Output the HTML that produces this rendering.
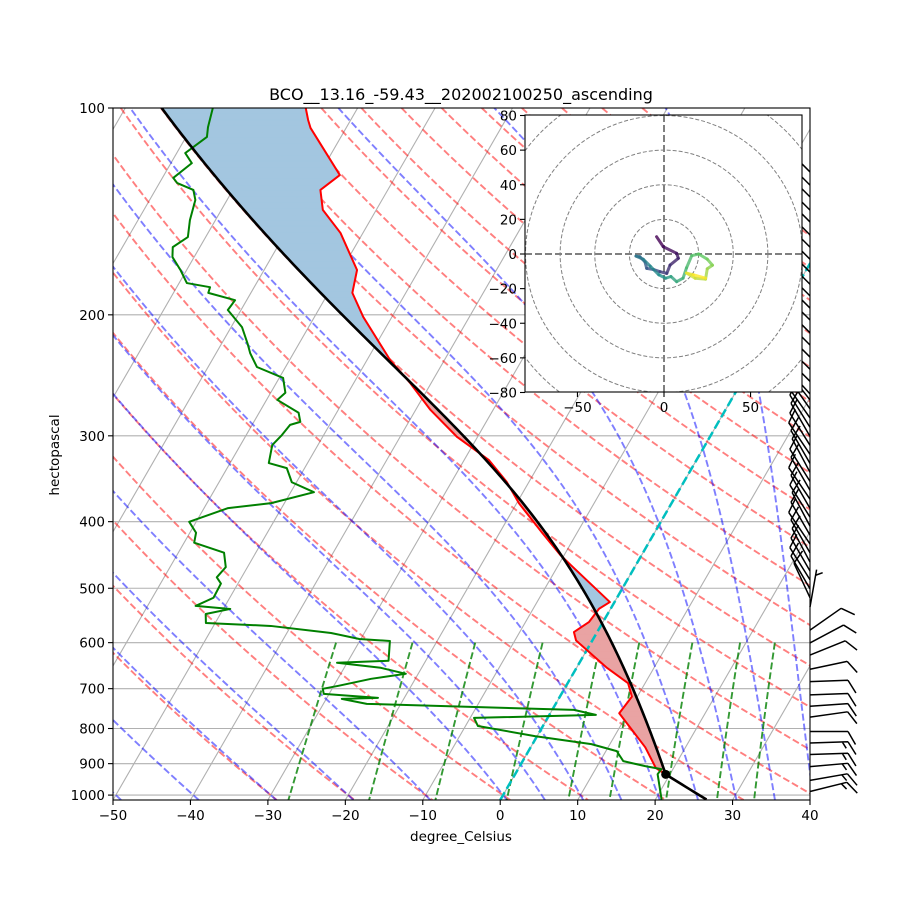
<!DOCTYPE html>
<html><head><meta charset="utf-8"><style>
html,body{margin:0;padding:0;background:#fff;}
svg text{font-family:"DejaVu Sans","Liberation Sans",sans-serif;fill:#000;}
</style></head>
<body>
<svg id="chart" width="900" height="900" xmlns="http://www.w3.org/2000/svg">
<defs>
<clipPath id="plotclip"><rect x="113" y="108" width="697" height="692"/></clipPath>
<clipPath id="hodoclip"><rect x="525" y="115" width="277" height="277"/></clipPath>
</defs>
<rect x="0" y="0" width="900" height="900" fill="#fff"/>
<g id="main" clip-path="url(#plotclip)"></g>
<g id="barbs"></g>
<g id="axes"></g>
<g id="inset"></g>
<text x="461" y="100" font-size="16" text-anchor="middle">BCO__13.16_-59.43__202002100250_ascending</text>
<text x="461" y="841" font-size="13.5" text-anchor="middle">degree_Celsius</text>
<text x="0" y="0" font-size="13.5" text-anchor="middle" transform="translate(59,455) rotate(-90)">hectopascal</text>
</svg>
<script>
// ---- data ----
const pressureTicks=[100,200,300,400,500,600,700,800,900,1000];
const tempTicks=[-50,-40,-30,-20,-10,0,10,20,30,40];
const envP=[100,104.1,106.9,125.2,131.6,140.7,152,172.1,185.8,201.4,232.8,251.4,275,301.3,325.4,349.9,376.1,416,447.3,462.6,523.7,535.5,559.7,579.1,595.6,651.6,687.3,719,760.1,852,913,935,1015];
const envT=[-76.7,-75.5,-74.6,-67.3,-68.7,-66.9,-62.9,-58.0,-56.9,-53.7,-47.0,-42.7,-38.1,-32.6,-26.8,-22.9,-19.7,-14.4,-10.5,-8.4,-0.6,-1.5,-1.8,-3.0,-2.1,3.8,7.8,9.3,8.9,14.8,17.7,19.6,26.6];
const dewP=[100,106.6,110.2,116.3,120.3,126.4,128.6,131.6,136.1,145.6,154.1,159.4,164.8,172.1,179.8,182.3,185.8,190.4,196.8,208.4,219.9,227.4,238.2,247.1,259.7,266,277.7,286.3,289.2,299.2,309.4,328.7,334.3,350.5,362.4,375.9,382.2,400.2,415.1,429.2,443.8,465.8,482,492.2,516.2,530.5,535.9,545,561.7,567.3,580.8,592.6,596.6,637.6,641.9,652.7,666,677.3,693.4,700.4,712.3,721.9,724.3,736.6,751.5,764.3,772.1,793.3,820.6,843,863,892.5,907.6,916.8,932.3,1015];
const dewT=[-88.7,-87.9,-87.3,-88.9,-87.3,-88.6,-87.7,-85.1,-84.1,-83.3,-82.3,-83.5,-82.8,-80.8,-79.0,-75.7,-75.5,-71.5,-71.7,-68.6,-66.7,-65.6,-63.7,-59.5,-58.1,-58.6,-54.9,-54.0,-55.1,-55.4,-55.9,-55.0,-52.3,-50.6,-47.0,-51.7,-56.9,-60.9,-59.2,-58.7,-54.1,-52.8,-53.2,-52.2,-52.1,-53.8,-49.1,-51.9,-51.2,-42.6,-34.3,-30.2,-26.1,-24.8,-31.3,-25.3,-21.6,-25.7,-29.4,-31.2,-30.7,-23.4,-28.0,-24.4,2.8,6.0,-9.5,-8.4,-0.3,7.6,11.4,13.0,16.2,18.5,18.4,20.8];
const dryT0=[-30,-20,-10,0,10,20,30,40,50,60,70,80,90,100,110,120,130,140,150,160,170,180,190];
const moistT0=[-50,-40,-30,-20,-10,0,5,10,15,20,25,30,35,40];
const mixRatios=[0.0004,0.001,0.002,0.004,0.007,0.01,0.016,0.024,0.032];
const barbP=[123.9,129.5,134.7,140.8,146.5,153,159.4,166,173.3,180.5,187.7,195.5,203.5,212.4,221.3,230.4,240,249.9,260.7,
 266,274,282.5,291.5,300.5,309.7,319.2,329,339,349.5,360,371,382.5,394,406,418.5,431,444,458,472,486,501,516,
 532.5,575.3,600.5,625.4,655.9,683.6,714.6,742.5,770,808,840,873,909,952,988];
const barbSpd=[10,10,10,10,10,10,10,10,10,10,10,10,10,10,10,10,10,10,10,
 10,10,10,10,10,10,10,10,10,10,10,10,10,10,10,10,10,10,10,10,10,10,10,
 5,10,10,10,10,10,10,10,10,10,15,15,15,15,15];
const barbDir=[315,315,315,315,315,315,315,315,315,315,315,315,315,315,315,315,315,315,318,
 322,325,325,328,330,328,326,330,332,328,330,326,330,328,332,330,326,330,332,330,328,330,335,
 10,55,62,68,78,88,88,86,82,90,88,88,85,80,76];
const hodoU=[-4.3,-0.4,7.3,8.3,3.5,1.6,-2.3,-6,-10,-11,-13.9,-16.2,-12,-8,-3,1,4,7.3,11,13,16,20,25,28,25,24,18,13,17,24];
const hodoV=[10,4.2,0.4,-2.5,-6.4,-11.2,-10.2,-9,-8.3,-4.5,-1.6,-1.2,-3,-7,-12,-14,-13,-16,-14,-8,-1,0,-3,-6.5,-8.5,-14.5,-14,-11,-12,-14];

// ---- scales ----
const NS="http://www.w3.org/2000/svg";
const X0=113,X1=810,Y0=108,Y1=800,K=298.4,PX=697/90,SK=Math.tan(Math.PI/6);
function yOf(p){return Y0+K*Math.log(p/100);}
function xOf(T,p){return X0+(T+50)*PX+(Y1-yOf(p))*SK;}
const PBOT=100*Math.exp((Y1-Y0)/K);
function mk(tag,attrs,parent){const e=document.createElementNS(NS,tag);for(const k in attrs)e.setAttribute(k,attrs[k]);parent.appendChild(e);return e;}
function pathD(pts){return pts.map((q,i)=>(i?'L':'M')+q[0].toFixed(2)+' '+q[1].toFixed(2)).join('');}
function logGrid(p1,p2,n){const a=[];for(let i=0;i<=n;i++)a.push(p1*Math.pow(p2/p1,i/n));return a;}
function interp(P,V,p){const lp=Math.log(p);
 if(p<=P[0])return V[0]; if(p>=P[P.length-1])return V[V.length-1];
 for(let i=0;i<P.length-1;i++){if(p>=P[i]&&p<=P[i+1]){const a=Math.log(P[i]),b=Math.log(P[i+1]);return V[i]+(V[i+1]-V[i])*(lp-a)/(b-a);}}return V[V.length-1];}
const Rd=287.04,Cp=1004.6,Lv=2.501e6,EPS=0.622;
function es(TK){const t=TK-273.15;return 6.112*Math.exp(17.67*t/(t+243.5));}
function dTdp(p,TK){const e=es(TK);const rs=EPS*e/(p-e);return (Rd*TK+Lv*rs)/(p*(Cp+Lv*Lv*rs*EPS/(Rd*TK*TK)));}
function moist(p0,T0K,pList){const out=[];let p=p0,T=T0K;
 for(const pt of pList){const n=8;const h=(pt-p)/n;
  for(let i=0;i<n;i++){const k1=dTdp(p,T),k2=dTdp(p+h/2,T+h*k1/2),k3=dTdp(p+h/2,T+h*k2/2),k4=dTdp(p+h,T+h*k3);T+=h*(k1+2*k2+2*k3+k4)/6;p+=h;}
  out.push([pt,T]);}
 return out;}

const main=document.getElementById('main');
pressureTicks.forEach(p=>{const l=mk('line',{x1:X0,x2:X1,y1:yOf(p),y2:yOf(p),stroke:'#b0b0b0','stroke-width':1.1},main);
 
 });
for(let T=-160;T<=40;T+=10){const l=mk('line',{x1:xOf(T,PBOT),y1:Y1,x2:xOf(T,100),y2:Y0,stroke:'#b0b0b0','stroke-width':1.1},main);
 
 }
const grid=logGrid(100,PBOT,60);
const DASH='7,3';
dryT0.forEach(t0=>{const pts=grid.map(p=>[xOf((t0+273.15)*Math.pow(p/1000,0.2857)-273.15,p),yOf(p)]);
 const e=mk('path',{d:pathD(pts),fill:'none',stroke:'#ff0000','stroke-opacity':0.5,'stroke-width':1.9,'stroke-dasharray':DASH},main);
 
 });
const up=logGrid(1000,100,60);
moistT0.forEach(t0=>{let pts=moist(1000,t0+273.15,up).map(q=>[xOf(q[1]-273.15,q[0]),yOf(q[0])]);
 const dn=moist(1000,t0+273.15,[PBOT]).map(q=>[xOf(q[1]-273.15,q[0]),yOf(q[0])]);
 pts=dn.concat([[xOf(t0,1000),yOf(1000)]]).concat(pts);
 const e=mk('path',{d:pathD(pts),fill:'none',stroke:'#0000ff','stroke-opacity':0.5,'stroke-width':1.9,'stroke-dasharray':DASH},main);
 
 });
mixRatios.forEach(w=>{const pts=logGrid(600,PBOT,20).map(p=>{const e=p*w/(EPS+w);const L=Math.log(e/6.112);const td=243.5*L/(17.67-L);return [xOf(td,p),yOf(p)];});
 const e=mk('path',{d:pathD(pts),fill:'none',stroke:'#008000','stroke-opacity':0.8,'stroke-width':1.9,'stroke-dasharray':DASH},main);
 
 });

const pS=envP[envP.length-1],TS=envT[envT.length-1],TdS=dewT[dewT.length-1];
const Tlcl=TdS-(0.212+0.001571*TdS-0.000436*TS)*(TS-TdS);
const plcl=pS*Math.pow((Tlcl+273.15)/(TS+273.15),3.5);
const dryPart=logGrid(pS,plcl,10).map(p=>[p,(TS+273.15)*Math.pow(p/pS,0.2857)-273.15]);
const upP=logGrid(plcl,100,200).slice(1);
const moistPart=moist(plcl,Tlcl+273.15,upP).map(q=>[q[0],q[1]-273.15]);
const parcel=dryPart.concat(moistPart);
const parP=parcel.map(q=>q[0]).slice().reverse(), parTv=parcel.map(q=>q[1]).slice().reverse();

const sg=logGrid(100,pS,500);
for(let i=0;i<sg.length-1;i++){const a=sg[i],b=sg[i+1];
 const ea=interp(envP,envT,a),eb=interp(envP,envT,b),pa=interp(parP,parTv,a),pb=interp(parP,parTv,b);
 const diff=(pa-ea)+(pb-eb);if(Math.abs(diff)<1e-6)continue;
 const col=diff>0?'#e9a3a3':'#a3c6e0';
 const e=mk('path',{d:pathD([[xOf(ea,a),yOf(a)],[xOf(pa,a),yOf(a)],[xOf(pb,b),yOf(b)],[xOf(eb,b),yOf(b)]])+'Z',fill:col,stroke:col,'stroke-width':0.6},main);
 
 }

const cy=mk('line',{x1:xOf(0,PBOT),y1:Y1,x2:xOf(0,100),y2:Y0,stroke:'#00bfbf','stroke-width':2.5,'stroke-dasharray':'9,4'},main);



const tl=mk('path',{d:pathD(envP.map((p,i)=>[xOf(envT[i],p),yOf(p)])),fill:'none',stroke:'#ff0000','stroke-width':2,'stroke-linejoin':'round'},main);


const dl=mk('path',{d:pathD(dewP.map((p,i)=>[xOf(dewT[i],p),yOf(p)])),fill:'none',stroke:'#008000','stroke-width':2,'stroke-linejoin':'round'},main);


const pl=mk('path',{d:pathD(parcel.map(q=>[xOf(q[1],q[0]),yOf(q[0])])),fill:'none',stroke:'#000','stroke-width':2.6},main);


const dot=mk('circle',{cx:xOf(Tlcl,plcl),cy:yOf(plcl),r:4.5,fill:'#000'},main);



const bg=document.getElementById('barbs');
barbP.forEach((p,i)=>{const y=yOf(p),bx=X1;const d=barbDir[i]*Math.PI/180;const sx=Math.sin(d),sy=-Math.cos(d);
 const L=38,tx=bx+sx*L,ty=y+sy*L,rx=-sy,ry=sx;
 let dstr='M'+bx+' '+y.toFixed(2)+'L'+tx.toFixed(2)+' '+ty.toFixed(2);
 let spd=Math.round(barbSpd[i]/5)*5;let nf=Math.floor(spd/10),nh=(spd%10)>=5?1:0;let pos=0;
 for(let k=0;k<nf;k++){const ax=tx-sx*pos,ay=ty-sy*pos;dstr+='M'+ax.toFixed(2)+' '+ay.toFixed(2)+'L'+(ax+(sx*0.5+rx*0.866)*15).toFixed(2)+' '+(ay+(sy*0.5+ry*0.866)*15).toFixed(2);pos+=5.7;}
 if(nh){if(nf===0)pos=5.7;const ax=tx-sx*pos,ay=ty-sy*pos;dstr+='M'+ax.toFixed(2)+' '+ay.toFixed(2)+'L'+(ax+(sx*0.5+rx*0.866)*7.5).toFixed(2)+' '+(ay+(sy*0.5+ry*0.866)*7.5).toFixed(2);}
 const e=mk('path',{d:dstr,fill:'none',stroke:'#000','stroke-width':1.5},bg);
 
 });

const ax=document.getElementById('axes');
const fr=mk('rect',{x:X0,y:Y0,width:X1-X0,height:Y1-Y0,fill:'none',stroke:'#000','stroke-width':1.1},ax);


pressureTicks.forEach(p=>{const y=yOf(p);
 const t=mk('line',{x1:X0-5,x2:X0,y1:y,y2:y,stroke:'#000','stroke-width':1.1},ax);
 
 
 const l=mk('text',{x:X0-8,y:y+5,'font-size':13.5,'text-anchor':'end'},ax);l.textContent=String(p);
 
 });
tempTicks.forEach(T=>{const x=X0+(T+50)*PX;
 const t=mk('line',{x1:x,x2:x,y1:Y1,y2:Y1+5,stroke:'#000','stroke-width':1.1},ax);
 
 
 const l=mk('text',{x:x,y:Y1+20,'font-size':13.5,'text-anchor':'middle'},ax);l.textContent=(T<0?'\u2212'+(-T):String(T));
 
 });

const ins=document.getElementById('inset');
const HX0=525,HY0=115,HS=277,HC=664,HV=254,HK=277/160;
const hb=mk('rect',{x:HX0,y:HY0,width:HS,height:HS,fill:'#fff'},ins);


const hg=mk('g',{'clip-path':'url(#hodoclip)'},ins);


const ringRadii=[20,40,60,80,100,120];
ringRadii.forEach(r=>{const c=mk('circle',{cx:HC,cy:HV,r:r*HK,fill:'none',stroke:'#808080','stroke-width':1,'stroke-dasharray':'4,2'},hg);
 
 });
const hl1=mk('line',{x1:HX0,x2:HX0+HS,y1:HV,y2:HV,stroke:'#808080','stroke-width':2,'stroke-dasharray':'7,3'},hg);


const hl2=mk('line',{x1:HC,x2:HC,y1:HY0,y2:HY0+HS,stroke:'#808080','stroke-width':2,'stroke-dasharray':'7,3'},hg);


const vir=[[68,1,84],[59,82,139],[33,145,140],[94,201,98],[253,231,37]];
function viridis(t){const s=t*4,i=Math.min(3,Math.floor(s)),f=s-i;const a=vir[i],b=vir[i+1];return 'rgb('+a.map((v,k)=>Math.round(v+(b[k]-v)*f)).join(',')+')';}
for(let i=0;i<hodoU.length-1;i++){const e=mk('line',{x1:HC+hodoU[i]*HK,y1:HV-hodoV[i]*HK,x2:HC+hodoU[i+1]*HK,y2:HV-hodoV[i+1]*HK,stroke:viridis(i/(hodoU.length-2)),'stroke-width':3,'stroke-linecap':'round','stroke-opacity':0.8},hg);
 
 }
const hf=mk('rect',{x:HX0,y:HY0,width:HS,height:HS,fill:'none',stroke:'#000','stroke-width':1.1},ins);


const hodoYTicks=[80,60,40,20,0,-20,-40,-60,-80];
hodoYTicks.forEach(v=>{const y=HV-v*HK;
 const t=mk('line',{x1:HX0-5,x2:HX0,y1:y,y2:y,stroke:'#000','stroke-width':1.1},ins);
 
 
 const l=mk('text',{x:HX0-8,y:y+5,'font-size':13.5,'text-anchor':'end'},ins);l.textContent=(v<0?'\u2212'+(-v):String(v));
 
 });
const hodoXTicks=[-50,0,50];
hodoXTicks.forEach(u=>{const x=HC+u*HK;
 const t=mk('line',{x1:x,x2:x,y1:HY0+HS,y2:HY0+HS+5,stroke:'#000','stroke-width':1.1},ins);
 
 
 const l=mk('text',{x:x,y:HY0+HS+20,'font-size':13.5,'text-anchor':'middle'},ins);l.textContent=(u<0?'\u2212'+(-u):String(u));
 
 });
</script>
</body></html>
